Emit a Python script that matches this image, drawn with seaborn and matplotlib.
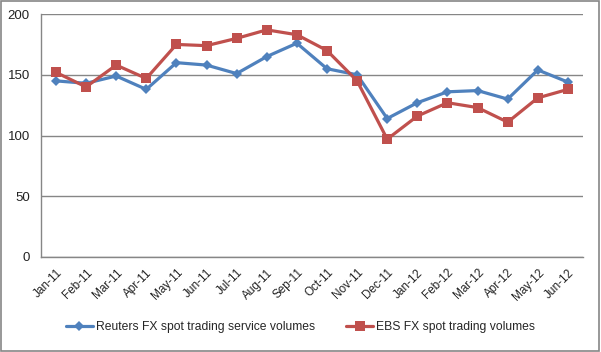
import numpy as np
import pandas as pd
import matplotlib
matplotlib.use("Agg")
import matplotlib.pyplot as plt
import seaborn as sns
from matplotlib.lines import Line2D
from matplotlib.patches import Rectangle

months = ['Jan-11', 'Feb-11', 'Mar-11', 'Apr-11', 'May-11', 'Jun-11', 'Jul-11', 'Aug-11', 'Sep-11',
          'Oct-11', 'Nov-11', 'Dec-11', 'Jan-12', 'Feb-12', 'Mar-12', 'Apr-12', 'May-12', 'Jun-12']
reuters = [145, 143, 149, 138, 160, 158, 151, 165, 176,
           155, 150, 114, 127, 136, 137, 130, 154, 144]
ebs = [152, 140, 158, 147, 175, 174, 180, 187, 183,
       170, 145, 97, 116, 127, 123, 111, 131, 138]

name_r = 'Reuters FX spot trading service volumes'
name_e = 'EBS FX spot trading volumes'

df = pd.DataFrame({'x': np.arange(len(months)), 'Reuters': reuters, 'EBS': ebs})

sns.set_style("white")
plt.rcParams['font.family'] = ['Liberation Sans', 'DejaVu Sans']

blue = '#4F81BD'
red = '#C0504D'
grid_col = '#868686'
lw = 2.3

fig = plt.figure(figsize=(6.01, 3.52), dpi=100)
ax = fig.add_axes([0.068, 0.270, 0.902, 0.690])

sns.lineplot(data=df, x='x', y='Reuters', ax=ax, color=blue, lw=lw, marker='D',
             markersize=5.5, markeredgewidth=0, zorder=3)
sns.lineplot(data=df, x='x', y='EBS', ax=ax, color=red, lw=lw, marker='s',
             markersize=7, markeredgewidth=0, zorder=3)

ax.set_xlim(-0.5, len(months) - 0.5)
ax.set_ylim(0, 200)
ax.set_yticks([0, 50, 100, 150, 200])
ax.yaxis.grid(True, color=grid_col, lw=1)
ax.set_axisbelow(True)

ax.set_xticks(np.arange(len(months)))
ax.set_xticklabels(months, rotation=45, ha='right', rotation_mode='anchor', fontsize=8.5, color='#222222')
ax.set_xticks(np.arange(-0.5, len(months)), minor=True)
ax.tick_params(axis='x', which='major', length=0, pad=7)
ax.tick_params(axis='x', which='minor', length=5, color=grid_col, width=1, direction='out')
ax.tick_params(axis='y', length=5, color=grid_col, width=1, direction='out', labelsize=9.5, labelcolor='#222222', pad=3)
ax.set_xlabel('')
ax.set_ylabel('')

for s in ['top', 'right']:
    ax.spines[s].set_visible(False)
for s in ['left', 'bottom']:
    ax.spines[s].set_color(grid_col)
    ax.spines[s].set_linewidth(1)

handles = [Line2D([], [], color=blue, lw=lw, marker='D', markersize=5.5, markeredgewidth=0),
           Line2D([], [], color=red, lw=lw, marker='s', markersize=7, markeredgewidth=0)]
fig.legend(handles, [name_r, name_e], loc='center', bbox_to_anchor=(0.5, 0.071), ncol=2,
           frameon=False, fontsize=8.7, handlelength=2.25, handletextpad=0.25, columnspacing=2.6)

fig.patches.append(Rectangle((0.002, 0.003), 0.995, 0.994, transform=fig.transFigure,
                             fill=False, edgecolor=grid_col, lw=1.2))

fig.savefig('out.png', dpi=100)
